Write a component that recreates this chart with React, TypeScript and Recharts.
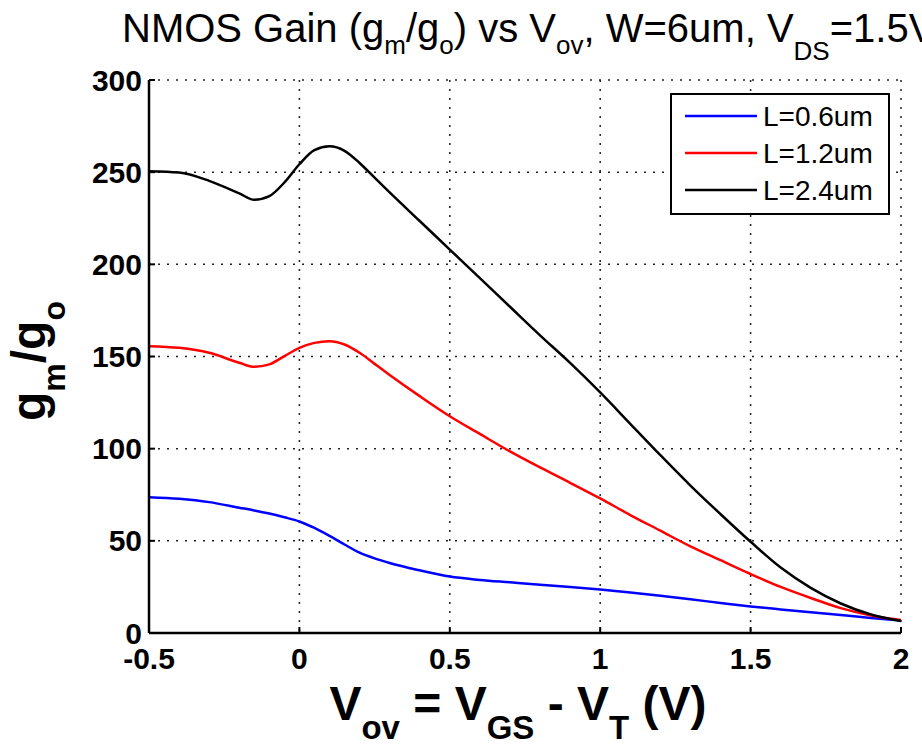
import React from 'react';
import { LineChart, Line, XAxis, YAxis, CartesianGrid, Legend, Label } from 'recharts';

const vov = [-0.5, -0.4, -0.3, -0.2, -0.15, -0.1, -0.05, 0, 0.05, 0.1, 0.15, 0.2, 0.25, 0.3, 0.4, 0.5, 0.6, 0.7, 0.8, 0.9, 1.0, 1.1, 1.2, 1.3, 1.4, 1.5, 1.6, 1.7, 1.8, 1.9, 2.0];
const gainL06 = [73.7, 72.8, 71, 68, 66.5, 64.8, 62.8, 60.5, 57, 52.7, 48, 43.6, 40.5, 38, 34, 30.6, 28.8, 27.5, 26.2, 25, 23.6, 22, 20.2, 18.3, 16.3, 14.4, 12.8, 11.3, 9.8, 8.2, 6.8];
const gainL12 = [155.6, 154.7, 152, 146.6, 144.4, 145.7, 150.2, 154.7, 157.4, 158.3, 156.5, 152, 146, 140, 128.5, 117.6, 108, 98.5, 89.8, 81.5, 73, 64, 55.5, 47, 39.5, 32, 25, 19, 13.5, 9.5, 7];
const gainL24 = [250.5, 249.8, 245.3, 238.5, 235, 237, 244.4, 254.3, 262, 264, 261.6, 255, 247, 239, 223.5, 208, 192.5, 177, 161.5, 146.5, 130.5, 113.5, 96.5, 80, 64.5, 49.5, 35.5, 24.5, 16, 10, 6.5];
const seriesNames = ['L=0.6um', 'L=1.2um', 'L=2.4um'];
const seriesColors = ['#0000ff', '#ff0000', '#000000'];
const xTicks = [-0.5, 0, 0.5, 1, 1.5, 2];
const yTicks = [0, 50, 100, 150, 200, 250, 300];

const data = vov.map((v, i) => ({ v, a: gainL06[i], b: gainL12[i], c: gainL24[i] }));
const keys = ['a', 'b', 'c'];

const FONT = '"Liberation Sans", Arial, Helvetica, sans-serif';

const TitleText = () => (
  <text x={122} y={42} fontFamily={FONT} fontSize={40} fill="#000" style={{ whiteSpace: 'pre' }}>
    <tspan>NMOS Gain (g</tspan>
    <tspan fontSize={26} dy={12}>m</tspan>
    <tspan dy={-12}>/g</tspan>
    <tspan fontSize={26} dy={12}>o</tspan>
    <tspan dy={-12}>) vs V</tspan>
    <tspan fontSize={26} dy={12}>ov</tspan>
    <tspan dy={-12}>, W=6um, V</tspan>
    <tspan fontSize={26} dy={18}>DS</tspan>
    <tspan dy={-18}>=1.5V</tspan>
  </text>
);

const XTitle = () => (
  <text x={518} y={720} textAnchor="middle" fontFamily={FONT} fontWeight="bold" fontSize={48} fill="#000" style={{ whiteSpace: 'pre' }}>
    <tspan>V</tspan>
    <tspan fontSize={33} dy={19}>ov</tspan>
    <tspan dy={-19}> = V</tspan>
    <tspan fontSize={33} dy={19}>GS</tspan>
    <tspan dy={-19}> - V</tspan>
    <tspan fontSize={33} dy={19}>T</tspan>
    <tspan dy={-19}> (V)</tspan>
  </text>
);

const YTitle = () => (
  <text x={45} y={361} transform="rotate(-90 45 361)" textAnchor="middle" fontFamily={FONT} fontWeight="bold" fontSize={48} fill="#000">
    <tspan>g</tspan>
    <tspan fontSize={32} dy={20}>m</tspan>
    <tspan dy={-20}>/g</tspan>
    <tspan fontSize={32} dy={20}>o</tspan>
  </text>
);

const XLabels = () => (
  <g>
    <TitleText />
    <XTitle />
  </g>
);

const LegendBox = (props: any) => {
  const payload = props.payload || [];
  return (
    <div style={{ width: 216, height: 118, border: '2px solid #000', background: '#fff' }}>
      <svg width={216} height={118}>
        {payload.map((p: any, i: number) => (
          <g key={i}>
            <line x1={13} x2={85} y1={21 + i * 37} y2={21 + i * 37} stroke={p.color} strokeWidth={2.5} />
            <text x={91} y={21 + i * 37} dy="0.36em" fontFamily={FONT} fontSize={28} fill="#000">{p.value}</text>
          </g>
        ))}
      </svg>
    </div>
  );
};

const axisLine = { stroke: '#000', strokeWidth: 2.5 };
const tickLine = { stroke: '#000', strokeWidth: 2 };
const tickStyle = { fontSize: 30, fontWeight: 'bold', fill: '#000', fontFamily: FONT };

export default function App() {
  return (
    <div style={{ position: 'absolute', left: 0, top: 0, width: 922, height: 746, background: '#fff' }}>
      <LineChart width={922} height={746} data={data} margin={{ top: 80, right: 21, bottom: 53, left: 0 }}>
        <CartesianGrid stroke="#222" strokeWidth={1.5} strokeDasharray="2 7" />
        <XAxis
          dataKey="v"
          type="number"
          domain={[-0.5, 2]}
          ticks={xTicks}
          allowDataOverflow
          height={60}
          axisLine={axisLine}
          tickLine={tickLine}
          tickSize={-6}
          tickMargin={21}
          tick={tickStyle}
          interval={0}
        >
          <Label content={() => <XLabels />} />
        </XAxis>
        <XAxis
          xAxisId="top"
          orientation="top"
          dataKey="v"
          type="number"
          domain={[-0.5, 2]}
          ticks={xTicks}
          allowDataOverflow
          height={0}
          axisLine={axisLine}
          tickLine={tickLine}
          tickSize={-6}
          tick={false}
        />
        <YAxis
          type="number"
          domain={[0, 300]}
          ticks={yTicks}
          allowDataOverflow
          width={149}
          axisLine={axisLine}
          tickLine={tickLine}
          tickSize={-6}
          tickMargin={13}
          tick={tickStyle}
          interval={0}
        >
          <Label content={() => <YTitle />} />
        </YAxis>
        <YAxis
          yAxisId="right"
          orientation="right"
          type="number"
          domain={[0, 300]}
          ticks={yTicks}
          allowDataOverflow
          width={0}
          axisLine={axisLine}
          tickLine={tickLine}
          tickSize={-6}
          tick={false}
        />
        <Legend
          layout="vertical"
          align="center"
          verticalAlign="middle"
          content={<LegendBox />}
          wrapperStyle={{ position: 'absolute', left: 670, top: 93, width: 220, height: 122 }}
        />
        {keys.map((k, i) => (
          <Line
            key={k}
            dataKey={k}
            name={seriesNames[i]}
            stroke={seriesColors[i]}
            strokeWidth={2.5}
            type="monotone"
            dot={false}
            activeDot={false}
            isAnimationActive={false}
          />
        ))}
      </LineChart>
    </div>
  );
}
